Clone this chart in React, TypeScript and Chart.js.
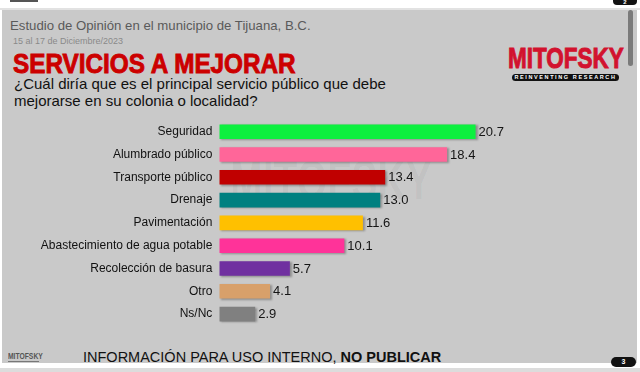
import React, { useEffect, useRef } from "react";
import { Chart, registerables } from "chart.js";

Chart.register(...registerables);

const categories = [
  "Seguridad",
  "Alumbrado público",
  "Transporte público",
  "Drenaje",
  "Pavimentación",
  "Abastecimiento de agua potable",
  "Recolección de basura",
  "Otro",
  "Ns/Nc",
];
const values = [20.7, 18.4, 13.4, 13.0, 11.6, 10.1, 5.7, 4.1, 2.9];
const barColors = [
  "#0DF03F",
  "#FF6699",
  "#C00000",
  "#008080",
  "#FFC000",
  "#FF3399",
  "#7030A0",
  "#D8A06A",
  "#808080",
];
const axisMax = 30;

const FONT = '"Liberation Sans", Arial, sans-serif';

const barPlugin = {
  id: "barExtras",
  beforeDatasetsDraw(chart: any) {
    const ctx = chart.ctx;
    ctx.save();
    ctx.shadowColor = "rgba(0,0,0,0.3)";
    ctx.shadowOffsetX = 2;
    ctx.shadowOffsetY = 1;
    ctx.shadowBlur = 2;
  },
  afterDatasetsDraw(chart: any) {
    const ctx = chart.ctx;
    ctx.restore();
    const meta = chart.getDatasetMeta(0);
    ctx.save();
    ctx.font = "13px " + FONT;
    ctx.fillStyle = "#151515";
    ctx.textAlign = "left";
    ctx.textBaseline = "middle";
    meta.data.forEach((bar: any, i: number) => {
      const v = chart.data.datasets[0].data[i] as number;
      ctx.fillText(v.toFixed(1), bar.x + 3, bar.y + 0.5);
    });
    ctx.restore();
  },
};

function BarChart() {
  const ref = useRef<HTMLCanvasElement>(null);
  useEffect(() => {
    if (!ref.current) return;
    const chart = new Chart(ref.current, {
      type: "bar",
      data: {
        labels: categories,
        datasets: [
          {
            data: values,
            backgroundColor: barColors,
            borderWidth: 0,
            barPercentage: 0.64,
            categoryPercentage: 1,
          },
        ],
      },
      options: {
        indexAxis: "y",
        animation: false,
        responsive: false,
        maintainAspectRatio: false,
        layout: { padding: { top: 120.3, bottom: 46.5, left: 0, right: 49.3 } },
        plugins: {
          legend: { display: false },
          tooltip: { enabled: false },
        },
        scales: {
          x: {
            display: false,
            min: 0,
            max: axisMax,
          },
          y: {
            grid: { display: false, drawTicks: false },
            border: { display: false },
            ticks: {
              color: "#111",
              padding: 7,
              font: { family: FONT, size: 12 },
            },
            afterFit(scale: any) {
              scale.width = 219.3;
            },
          },
        },
      },
      plugins: [barPlugin],
    });
    return () => chart.destroy();
  }, []);
  return (
    <canvas
      ref={ref}
      width={640}
      height={372}
      style={{ position: "absolute", left: 0, top: 0, width: 640, height: 372 }}
    />
  );
}

export default function App() {
  useEffect(() => {
    document.body.style.margin = "0";
  }, []);
  const abs = (s: React.CSSProperties): React.CSSProperties => ({
    position: "absolute",
    whiteSpace: "nowrap",
    ...s,
  });
  return (
    <div
      style={{
        position: "relative",
        width: 640,
        height: 372,
        overflow: "hidden",
        background: "#ffffff",
        fontFamily: FONT,
      }}
    >
      {/* top strip elements */}
      <div style={abs({ left: 10, top: 0, width: 28, height: 2, background: "#555" })} />
      <div style={abs({ left: 0, top: 8, width: 640, height: 2, background: "#e2e2e2" })} />
      {/* grey panel */}
      <div style={abs({ left: 2, top: 10, width: 635, height: 353, background: "#c9c9c9" })} />
      <div style={abs({ left: 0, top: 368, width: 640, height: 4, background: "#dcdcdc" })} />
      {/* page tags */}
      <div
        style={abs({
          left: 613,
          top: -4,
          width: 24,
          height: 9,
          background: "#111",
          borderRadius: 4,
          color: "#fff",
          fontSize: 6,
          fontWeight: "bold",
          textAlign: "center",
          lineHeight: "12px",
        })}
      >
        2
      </div>
      <div style={abs({ left: 628, top: 10, width: 5, height: 56, background: "#7a7a7a", borderRadius: 3 })} />
      <div
        style={abs({
          left: 611,
          top: 357,
          width: 25,
          height: 10,
          background: "#111",
          borderRadius: 5,
          color: "#fff",
          fontSize: 7,
          fontWeight: "bold",
          textAlign: "center",
          lineHeight: "10px",
        })}
      >
        3
      </div>
      {/* watermark */}
      <div
        style={abs({
          left: 230,
          top: 152,
          fontSize: 56,
          fontWeight: "bold",
          lineHeight: "56px",
          color: "rgba(0,0,0,0.04)",
          transform: "scaleX(0.7)",
          transformOrigin: "left top",
        })}
      >
        MITOFSKY
      </div>
      {/* headers */}
      <div style={abs({ left: 10, top: 18.5, fontSize: 13.2, lineHeight: "13px", color: "#5a5a5a" })}>
        Estudio de Opinión en el municipio de Tijuana, B.C.
      </div>
      <div style={abs({ left: 13, top: 37.4, fontSize: 9, lineHeight: "9px", color: "#8a8a8a" })}>
        15 al 17 de Diciembre/2023
      </div>
      <div
        style={abs({
          left: 13,
          top: 51,
          fontSize: 27,
          lineHeight: "27px",
          fontWeight: "bold",
          color: "#CC0000",
          WebkitTextStroke: "0.9px #CC0000",
          transform: "scaleX(0.9)",
          transformOrigin: "left top",
        })}
      >
        SERVICIOS A MEJORAR
      </div>
      <div style={abs({ left: 14, top: 74.8, fontSize: 15, lineHeight: "17px", color: "#111", whiteSpace: "normal", width: 420 })}>
        ¿Cuál diría que es el principal servicio público que debe
        <br />
        mejorarse en su colonia o localidad?
      </div>
      {/* logo */}
      <div
        style={abs({
          left: 508,
          top: 42.5,
          fontSize: 30,
          lineHeight: "30px",
          fontWeight: "bold",
          color: "#D2122E",
          WebkitTextStroke: "1px #D2122E",
          transform: "scaleX(0.75)",
          transformOrigin: "left top",
        })}
      >
        MITOFSKY
      </div>
      <div
        style={abs({
          left: 512,
          top: 74,
          width: 107,
          height: 7,
          background: "#111",
          borderRadius: 4,
          color: "#fff",
          fontSize: 5.5,
          lineHeight: "7px",
          fontWeight: "bold",
          textAlign: "center",
          letterSpacing: 1.6,
        })}
      >
        REINVENTING RESEARCH
      </div>
      {/* footer */}
      <div
        style={abs({
          left: 8,
          top: 352,
          fontSize: 9,
          lineHeight: "9px",
          fontWeight: "bold",
          color: "#555",
          transform: "scaleX(0.75)",
          transformOrigin: "left top",
        })}
      >
        MITOFSKY
      </div>
      <div style={abs({ left: 8, top: 361, width: 31, height: 1, background: "#777" })} />
      <div style={abs({ left: 83, top: 349.5, fontSize: 14.5, lineHeight: "14px", color: "#111" })}>
        INFORMACIÓN PARA USO INTERNO, <b>NO PUBLICAR</b>
      </div>
      <BarChart />
    </div>
  );
}
